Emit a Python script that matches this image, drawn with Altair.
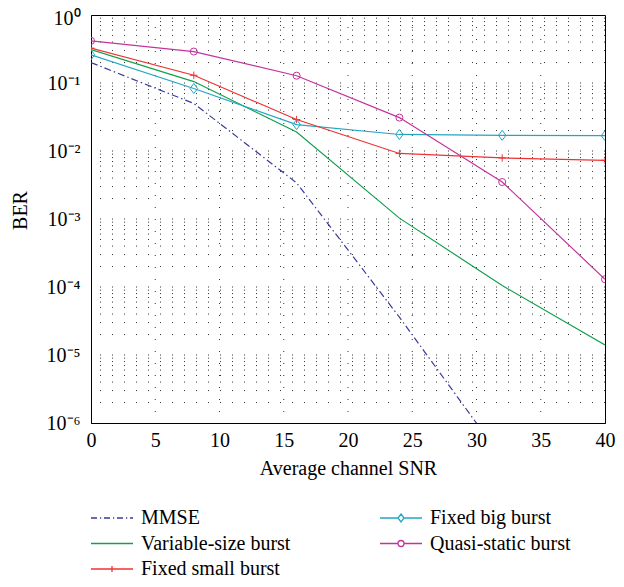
import altair as alt
import pandas as pd

# ---- data ----
snr = [0, 8, 16, 24, 32, 40]
snr_mmse = [0, 8, 16, 24, 32]
ber_mmse = [0.2, 0.05, 0.0034, 3.6e-5, 3.0e-7]
ber_variable = [0.31, 0.105, 0.019, 0.00103, 1.05e-4, 1.4e-5]
ber_fixed_small = [0.325, 0.13, 0.029, 0.0092, 0.0079, 0.0073]
ber_fixed_big = [0.26, 0.083, 0.0245, 0.0175, 0.017, 0.0168]
ber_quasi = [0.417, 0.29, 0.128, 0.031, 0.0035, 1.3e-4]

legend_order = ["MMSE", "Variable-size burst", "Fixed small burst",
                "Fixed big burst", "Quasi-static burst"]
series_colors = ["#3a3a9c", "#12a04c", "#ee3333", "#22a6c4", "#c4339c"]
color_of = dict(zip(legend_order, series_colors))

x_ticks = [0, 5, 10, 15, 20, 25, 30, 35, 40]
y_ticks = [1e-6, 1e-5, 1e-4, 1e-3, 1e-2, 1e-1, 1]
x_grid = [5, 10, 15, 20, 25, 30, 35]
y_grid = [m * 10.0 ** d for d in range(-6, 0) for m in range(1, 10)][1:]

FONT = "Liberation Serif"
FS = 20
W, H = 514, 408

rows = []
for name, xs, ys in [
    ("MMSE", snr_mmse, ber_mmse),
    ("Variable-size burst", snr, ber_variable),
    ("Fixed small burst", snr, ber_fixed_small),
    ("Fixed big burst", snr, ber_fixed_big),
    ("Quasi-static burst", snr, ber_quasi),
]:
    for a, b in zip(xs, ys):
        rows.append({"snr": a, "ber": b, "series": name})
df = pd.DataFrame(rows)

xscale = alt.Scale(domain=[0, 40], nice=False, zero=False)
yscale = alt.Scale(type="log", domain=[1e-6, 1], nice=False)
color_scale = alt.Scale(domain=legend_order, range=series_colors)

x_axis = alt.Axis(values=x_ticks, title="Average channel SNR", grid=False, ticks=False,
                  labelFont=FONT, labelFontSize=FS, labelColor="black", labelPadding=7,
                  labelFlush=False, titleFont=FONT, titleFontSize=FS,
                  titleFontWeight="normal", titleColor="black", titleX=W / 2, titleY=45,
                  titleBaseline="middle", titleAlign="center",
                  domainColor="black", domainWidth=1)
y_axis = alt.Axis(values=y_ticks, title="BER", grid=False, ticks=False,
                  labelFont=FONT, labelFontSize=FS, labelColor="black", labelPadding=11,
                  labelFlush=False,
                  labelOffset=alt.expr("datum.value >= 0.5 ? 3 : 0"),
                  labelExpr="'10' + ['\u2070','\u207b\u00b9','\u207b\u00b2','\u207b\u00b3','\u207b\u2074','\u207b\u2075','\u207b\u2076'][round(-log(datum.value)/LN10)]",
                  titleFont=FONT, titleFontSize=FS, titleFontWeight="normal",
                  titleColor="black", titleX=-71, titleY=195, titleBaseline="middle",
                  titleAlign="center", domainColor="black", domainWidth=1)

X = lambda f: alt.X(f, scale=xscale, axis=x_axis)
Y = lambda f: alt.Y(f, scale=yscale, axis=y_axis)

grid_style = dict(strokeDash=[1, 11], color="#333333", strokeWidth=1)
xgrid = alt.Chart(pd.DataFrame({"v": x_grid})).mark_rule(**grid_style).encode(x=X("v:Q"))
ygrid = alt.Chart(pd.DataFrame({"v": y_grid})).mark_rule(**grid_style).encode(y=Y("v:Q"))


def line(name, dash=None):
    kw = dict(clip=True, strokeWidth=1.2, color=color_of[name])
    if dash:
        kw["strokeDash"] = dash
    return alt.Chart(df).transform_filter(alt.datum.series == name).mark_line(**kw).encode(
        x=X("snr:Q"), y=Y("ber:Q"))


PLUS = "M -1 0 L 1 0 M 0 -1 L 0 1"
DIAMOND = "M 0 -1 L 0.75 0 L 0 1 L -0.75 0 Z"


def markers(name, shape, size):
    return alt.Chart(df).transform_filter(alt.datum.series == name).mark_point(
        shape=shape, size=size, filled=False, strokeWidth=1, color=color_of[name],
        opacity=1, clip=True
    ).encode(x=X("snr:Q"), y=Y("ber:Q"))


layers = [
    xgrid, ygrid,
    line("MMSE", [7, 3, 1.5, 3]),
    line("Variable-size burst"),
    line("Fixed big burst"),
    line("Quasi-static burst"),
    line("Fixed small burst"),
    markers("Fixed small burst", PLUS, 55),
    markers("Fixed big burst", DIAMOND, 100),
    markers("Quasi-static burst", "circle", 50),
]

# legend symbols: line segment with marker (path units scale by sqrt(size)/2)
legend_paths = [
    "M -2.1 0 L -1.5 0 M -1.2 0 L -1.08 0 M -0.8 0 L -0.2 0 M 0.1 0 L 0.22 0 M 0.5 0 L 1.1 0 M 1.4 0 L 1.52 0 M 1.8 0 L 2.1 0",
    "M -2.1 0 L 2.1 0",
    "M -2.1 0 L 2.1 0 M 0 -0.3 L 0 0.3",
    "M -2.1 0 L -0.3 0 M 0.3 0 L 2.1 0 M 0 -0.4 L 0.3 0 L 0 0.4 L -0.3 0 Z",
    "M -2.1 0 L -0.3 0 M 0.3 0 L 2.1 0 M 0.3 0 A 0.3 0.3 0 1 1 -0.3 0 A 0.3 0.3 0 1 1 0.3 0 Z",
]

leg = alt.Legend(orient="none", legendX=10, legendY=492, columns=2, columnPadding=86,
                 rowPadding=4.5, title=None, labelFont=FONT, labelFontSize=FS,
                 labelColor="black", labelOffset=18, labelLimit=400,
                 symbolSize=400, symbolStrokeWidth=1.3, padding=0)

legend_layer = alt.Chart(df).mark_point(
    filled=False, size=400, strokeWidth=1.3, opacity=0
).encode(
    x=X("snr:Q"), y=Y("ber:Q"),
    color=alt.Color("series:N", scale=color_scale, legend=leg),
    shape=alt.Shape("series:N", scale=alt.Scale(domain=legend_order, range=legend_paths),
                    legend=leg),
)
layers.append(legend_layer)

chart = alt.layer(*layers).properties(
    width=W, height=H,
    autosize=alt.AutoSizeParams(type="none"),
    padding={"left": 83, "top": 7, "right": 11, "bottom": 156},
    background="white",
).configure_view(stroke="black", strokeWidth=1)

chart.save("out.html", embed_options={"renderer": "svg", "actions": False})
